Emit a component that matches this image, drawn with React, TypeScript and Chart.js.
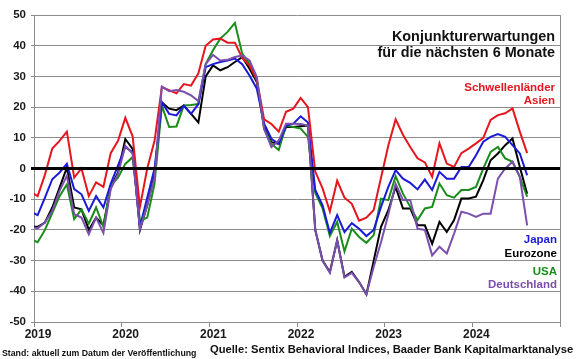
import React, { useEffect, useRef } from 'react';
import { Chart, registerables } from 'chart.js';

Chart.register(...registerables);

const FONT = '"Liberation Sans", Arial, Helvetica, sans-serif';

// monthly values, index 0 = Dec 2018, index 1 = Jan 2019 ... index 68 = Aug 2024
const asien = [-7.5, -9, -2, 6.5, 9, 12, -3, 0, -9, -4.5, -6, 5, 9, 16.5, 10.5, -12.5, 0, 9, 26.5, 25.5, 24.5, 27.5, 27, 31, 40, 42, 42.3, 41, 41, 36, 33.5, 29, 16, 14.5, 12, 18.5, 19.5, 23, 20, -1, -6.5, -14, -4, -9.5, -11.5, -17, -16, -13.5, -3, 7.5, 16, 11, 7, 3.3, 2, -2.7, 8.2, 1.6, 0.5, 5, 6.5, 8.2, 10, 15.8, 17.4, 18, 19.6, 12, 5];
const japan = [-14, -15.2, -9.5, -3.5, -1.3, 1.5, -6.7, -8.4, -13.8, -9, -12.7, -5, 1, 7, 5.3, -19, -9.5, 0, 21.6, 17.8, 17.3, 20.5, 17.8, 21, 33, 34, 34.7, 35.2, 35.8, 34, 30.3, 26, 14.6, 9.7, 8, 14, 14.6, 17, 15, -7, -12, -21, -15.2, -20.7, -17.8, -19.6, -22, -20, -12.5, -6, -0.5, -3.3, -4.7, -6.8, -3.6, -7, -1.1, -3.3, -3.3, 0.5, 0.5, 4.3, 8.7, 10.3, 11.2, 10.3, 7.6, 4.9, -2.2];
const eurozone = [-19, -19, -17.6, -12.7, -6.2, 0.3, -12.7, -13.3, -20, -16, -18.5, -6.2, -1.3, 9.6, 6.4, -20, -12, -2, 21.6, 19.5, 19, 20.5, 17.8, 15, 30, 33.6, 32, 33, 34.7, 36.3, 32.5, 28.2, 13.5, 8.6, 8, 13.5, 13.5, 13.8, 14, -20, -30, -33.7, -23.4, -35.3, -33.7, -37, -41, -30, -19, -13.6, -6, -13, -13, -18.5, -18.5, -24.5, -17.4, -20.7, -16.8, -9.8, -9.8, -9.2, -3.8, 2.7, 4.9, 7.6, 9.8, 0.5, -8.2];
const usa = [-23, -24, -20, -14.5, -9, -5.2, -16.5, -13.3, -18, -12.7, -19, -5.6, -3, 1.5, 3.7, -17, -16, -5, 20.5, 13.5, 13.7, 20.5, 20.7, 21, 34, 38.5, 42.3, 44.5, 47.4, 37.4, 34, 28.7, 12.9, 8, 6, 14, 13.5, 13, 10.3, -8, -13, -22, -17.4, -27, -19.6, -22.3, -24.2, -21.7, -9.8, -10.3, -2.5, -8.2, -12.5, -16.8, -13, -12.5, -4.9, -8.7, -9.5, -7, -7, -6, 0, 5.4, 7, 3.3, 2.2, -2.7, -9.2];
const deutschland = [-19, -19.5, -17.5, -13.8, -7.3, -2.4, -14.9, -16, -21.4, -16, -21, -6.7, -1.8, 7.4, 4.8, -19.7, -12, -3, 26.7, 25.2, 25.6, 25, 23.8, 22, 34, 37, 35.2, 35.4, 36.3, 36.8, 35.2, 29.8, 12.9, 7, 9.1, 14.6, 14.6, 14.5, 14, -20, -30, -34, -23.4, -35.5, -34, -37, -41, -32, -24, -15, -5, -10.3, -10.3, -19.6, -20, -28.3, -25.5, -27.7, -21.2, -14.1, -14.7, -15.8, -14.7, -14.7, -3.3, 0, 2.2, -2.7, -18.5];

const yearLabels = ['2019', '2020', '2021', '2022', '2023', '2024'];
const titleLines = ['Konjunkturerwartungen', 'für die nächsten 6 Monate'];
const seriesNames = ['Schwellenländer Asien', 'Japan', 'Eurozone', 'USA', 'Deutschland'];

const COLORS = {
  asien: '#e5161e',
  japan: '#1a1ad8',
  eurozone: '#000000',
  usa: '#1a8c1a',
  deutschland: '#7a4fad',
};

const toPoints = (arr: number[]) => arr.map((v, i) => ({ x: i - 0.5, y: v }));

const textPlugin = {
  id: 'texts',
  afterDatasetsDraw(chart: any) {
    const { ctx, chartArea, scales } = chart;
    const y0 = scales.y.getPixelForValue(0);
    ctx.save();
    ctx.beginPath();
    ctx.strokeStyle = '#000';
    ctx.lineWidth = 3;
    ctx.moveTo(chartArea.left, y0);
    ctx.lineTo(chartArea.right, y0);
    ctx.stroke();
    ctx.restore();
  },
  afterDraw(chart: any) {
    const { ctx, chartArea } = chart;
    ctx.save();
    // right border
    ctx.beginPath();
    ctx.strokeStyle = '#8c8c8c';
    ctx.lineWidth = 1;
    ctx.moveTo(chartArea.right + 0.5, chartArea.top);
    ctx.lineTo(chartArea.right + 0.5, chartArea.bottom);
    ctx.stroke();

    ctx.textAlign = 'right';
    ctx.textBaseline = 'alphabetic';
    ctx.fillStyle = '#111';
    ctx.font = `bold 14.4px ${FONT}`;
    ctx.fillText(titleLines[0], 555, 41);
    ctx.fillText(titleLines[1], 555, 57.3);

    ctx.font = `bold 11.5px ${FONT}`;
    ctx.fillStyle = COLORS.asien;
    ctx.fillText('Schwellenländer', 555, 91);
    ctx.fillText('Asien', 555, 103.5);
    ctx.fillStyle = COLORS.japan;
    ctx.fillText(seriesNames[1], 557, 242.7);
    ctx.fillStyle = COLORS.eurozone;
    ctx.fillText(seriesNames[2], 557, 256.7);
    ctx.fillStyle = COLORS.usa;
    ctx.fillText(seriesNames[3], 557, 274.5);
    ctx.fillStyle = COLORS.deutschland;
    ctx.fillText(seriesNames[4], 557, 287.5);

    ctx.textAlign = 'left';
    ctx.fillStyle = '#111';
    ctx.font = `bold 8.75px ${FONT}`;
    ctx.fillText('Stand: aktuell zum Datum der Veröffentlichung', 2, 355.5);
    ctx.font = `bold 11.2px ${FONT}`;
    ctx.fillText('Quelle: Sentix Behavioral Indices, Baader Bank Kapitalmarktanalyse', 210, 352.5);
    ctx.restore();
  },
};

export default function App() {
  const ref = useRef<HTMLCanvasElement>(null);
  useEffect(() => {
    document.body.style.margin = '0';
    const canvas = ref.current;
    if (!canvas) return;
    const mk = (label: string, data: number[], color: string, order: number) => ({
      label,
      data: toPoints(data),
      borderColor: color,
      backgroundColor: color,
      borderWidth: 2,
      pointRadius: 0,
      tension: 0,
      fill: false,
      order,
      clip: 0,
    });
    const chart = new Chart(canvas, {
      type: 'line',
      data: {
        datasets: [
          mk(seriesNames[4], deutschland, COLORS.deutschland, 0),
          mk(seriesNames[0], asien, COLORS.asien, 1),
          mk(seriesNames[1], japan, COLORS.japan, 2),
          mk(seriesNames[3], usa, COLORS.usa, 3),
          mk(seriesNames[2], eurozone, COLORS.eurozone, 4),
        ] as any,
      },
      options: {
        animation: false,
        responsive: false,
        devicePixelRatio: 1,
        layout: { padding: { top: 15, right: 20, left: 0, bottom: 0 } },
        plugins: { legend: { display: false }, tooltip: { enabled: false }, title: { display: false } },
        scales: {
          x: {
            type: 'linear',
            min: 0,
            max: 72,
            afterFit: (s: any) => { s.height = 37; },
            ticks: {
              stepSize: 12,
              autoSkip: false,
              maxRotation: 0,
              labelOffset: 4,
              padding: 0,
              color: '#1a1a1a',
              font: { family: FONT, size: 12, weight: 'bold' },
              callback: (v: any) => {
                const i = Math.round(Number(v) / 12);
                return i < yearLabels.length ? yearLabels[i] : '';
              },
            },
            grid: { drawOnChartArea: false, tickLength: 5, color: '#8c8c8c' },
            border: { color: '#8c8c8c' },
          },
          y: {
            min: -50,
            max: 50,
            afterFit: (s: any) => { s.width = 34; },
            ticks: {
              stepSize: 10,
              padding: 5,
              color: '#1a1a1a',
              font: { family: FONT, size: 11.5, weight: 'bold' },
            },
            grid: {
              tickLength: 3,
              color: (c: any) => (c.tick && c.tick.value === 0 ? '#000' : '#8c8c8c'),
              lineWidth: (c: any) => (c.tick && c.tick.value === 0 ? 3 : 1),
            },
            border: { color: '#8c8c8c' },
          },
        },
      } as any,
      plugins: [textPlugin],
    });
    return () => chart.destroy();
  }, []);
  return (
    <div style={{ width: 580, height: 359 }}>
      <canvas ref={ref} width={580} height={359} style={{ width: 580, height: 359, display: 'block' }} />
    </div>
  );
}
